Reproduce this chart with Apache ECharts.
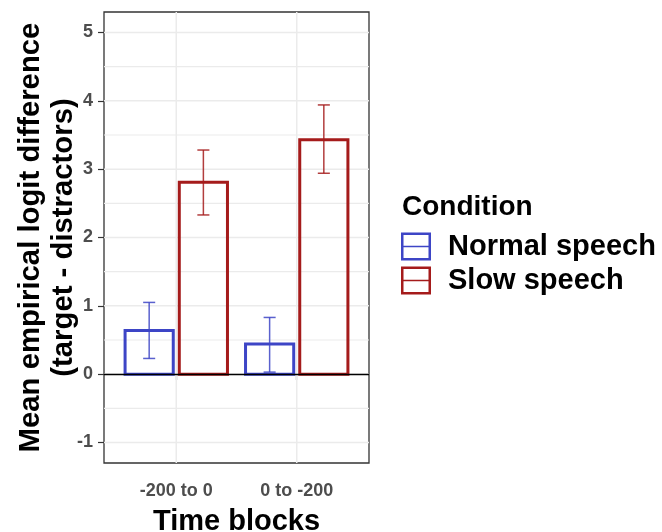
<!DOCTYPE html>
<html>
<head>
<meta charset="utf-8">
<script src="https://cdn.jsdelivr.net/npm/echarts@6/dist/echarts.min.js"></script>
<style>
  html, body { margin: 0; padding: 0; background: #fff; }
  #chart { width: 662px; height: 532px; }
</style>
</head>
<body>
<div id="chart"></div>
<script>
// data
const timeBlocks = ['-200 to 0', '0 to -200'];
const conditions = ['Normal speech', 'Slow speech'];
const normalMean = [0.64, 0.44];
const normalLow = [0.23, 0.03];
const normalHigh = [1.05, 0.83];
const slowMean = [2.81, 3.43];
const slowLow = [2.33, 2.94];
const slowHigh = [3.28, 3.94];
const yTicks = [-1, 0, 1, 2, 3, 4, 5];
const yMinor = [-0.5, 0.5, 1.5, 2.5, 3.5, 4.5];

const colors = { 'Normal speech': '#3d45c6', 'Slow speech': '#a51b1b' };
const dodge = 0.225;
const barW = 0.4;
const whisker = 0.1;

const toRows = (mean, lo, hi, off) => mean.map((m, i) => [i + 1 + off, m, lo[i], hi[i]]);

const barItem = (color) => (params, api) => {
	const x = api.value(0);
	const p0 = api.coord([x - barW / 2, api.value(1)]);
	const p1 = api.coord([x + barW / 2, 0]);
	const eTop = api.coord([x, api.value(3)]);
	const eBot = api.coord([x, api.value(2)]);
	const wl = api.coord([x - whisker / 2, 0])[0];
	const wr = api.coord([x + whisker / 2, 0])[0];
	const errStyle = { stroke: color, lineWidth: 1.5, opacity: 0.85 };
	return {
		type: 'group',
		children: [
			{
				type: 'rect',
				shape: { x: p0[0], y: p0[1], width: p1[0] - p0[0], height: p1[1] - p0[1] },
				style: { fill: 'none', stroke: color, lineWidth: 3 }
			},
			{ type: 'line', shape: { x1: eTop[0], y1: eTop[1], x2: eBot[0], y2: eBot[1] }, style: errStyle },
			{ type: 'line', shape: { x1: wl, y1: eTop[1], x2: wr, y2: eTop[1] }, style: errStyle },
			{ type: 'line', shape: { x1: wl, y1: eBot[1], x2: wr, y2: eBot[1] }, style: errStyle }
		]
	};
};

const gridItem = (params, api) => {
	const v = api.value(0);
	const kind = api.value(1);
	const style = { stroke: '#ebebeb', lineWidth: kind === 0 ? 1.1 : 1.5 };
	if (kind === 2) {
		const a = api.coord([v, -1.3]);
		const b = api.coord([v, 5.3]);
		return { type: 'line', shape: { x1: a[0], y1: a[1], x2: b[0], y2: b[1] }, style };
	}
	const a = api.coord([0.4, v]);
	const b = api.coord([2.6, v]);
	return { type: 'line', shape: { x1: a[0], y1: a[1], x2: b[0], y2: b[1] }, style };
};

const gridData = [
	...yMinor.map((v) => [v, 0]),
	...yTicks.map((v) => [v, 1]),
	...timeBlocks.map((t, i) => [i + 1, 2])
];

const keyIcon = 'path://M0,0H30V28H0Z M2.5,2.5V13.3H27.5V2.5Z M2.5,14.7V25.5H27.5V14.7Z';
const fontFamily = 'Liberation Sans, Arial, sans-serif';
const tickFont = { color: '#4d4d4d', fontSize: 18, fontWeight: 'bold', fontFamily };
const titleFont = { color: '#000', fontSize: 29, fontWeight: 'bold', fontFamily };

const chart = echarts.init(document.getElementById('chart'));
chart.setOption({
	backgroundColor: '#fff',
	animation: false,
	title: {
		text: 'Condition',
		left: 397,
		top: 188,
		textStyle: { ...titleFont, fontSize: 28 }
	},
	legend: {
		orient: 'vertical',
		left: 401,
		top: 232,
		padding: 0,
		itemWidth: 30,
		itemHeight: 28,
		itemGap: 5,
		icon: keyIcon,
		textStyle: { ...titleFont, padding: [0, 0, 0, 12] },
		data: conditions.map((c) => ({ name: c, itemStyle: { color: colors[c] } }))
	},
	grid: {
		left: 104,
		right: 293,
		top: 12,
		bottom: 69,
		outerBoundsMode: 'none',
		containLabel: false,
		show: true,
		borderColor: '#333',
		borderWidth: 1.3,
		backgroundColor: '#fff'
	},
	xAxis: {
		type: 'value',
		min: 0.4,
		max: 2.6,
		splitLine: { show: false },
		axisLine: { show: false },
		axisTick: { show: true, customValues: [1, 2], length: 6, lineStyle: { color: '#333', width: 1.2 } },
		axisLabel: {
			customValues: [1, 2],
			margin: 19,
			formatter: (v) => timeBlocks[Math.round(v) - 1],
			...tickFont
		},
		name: 'Time blocks',
		nameLocation: 'middle',
		nameGap: 44,
		nameMoveOverlap: false,
		nameTextStyle: titleFont
	},
	yAxis: {
		type: 'value',
		min: -1.3,
		max: 5.3,
		splitLine: { show: false },
		axisLine: { show: false },
		axisTick: { show: true, customValues: yTicks, length: 6, lineStyle: { color: '#333', width: 1.2 } },
		axisLabel: { customValues: yTicks, margin: 11, ...tickFont },
		name: 'Mean empirical logit difference\n(target - distractors)',
		nameLocation: 'middle',
		nameRotate: 90,
		nameGap: 24,
		nameMoveOverlap: false,
		nameTextStyle: { ...titleFont, fontSize: 29.3, lineHeight: 33 }
	},
	series: [
		{
			type: 'custom',
			name: 'grid',
			silent: true,
			clip: true,
			z: 1,
			renderItem: gridItem,
			data: gridData
		},
		{
			type: 'custom',
			name: conditions[0],
			z: 3,
			itemStyle: { color: colors[conditions[0]] },
			renderItem: barItem(colors[conditions[0]]),
			data: toRows(normalMean, normalLow, normalHigh, -dodge)
		},
		{
			type: 'custom',
			name: conditions[1],
			z: 3,
			itemStyle: { color: colors[conditions[1]] },
			renderItem: barItem(colors[conditions[1]]),
			data: toRows(slowMean, slowLow, slowHigh, dodge),
			markLine: {
				silent: true,
				symbol: 'none',
				label: { show: false },
				lineStyle: { color: '#000', width: 1.3, type: 'solid' },
				data: [{ yAxis: 0 }]
			}
		}
	]
});
</script>
</body>
</html>
